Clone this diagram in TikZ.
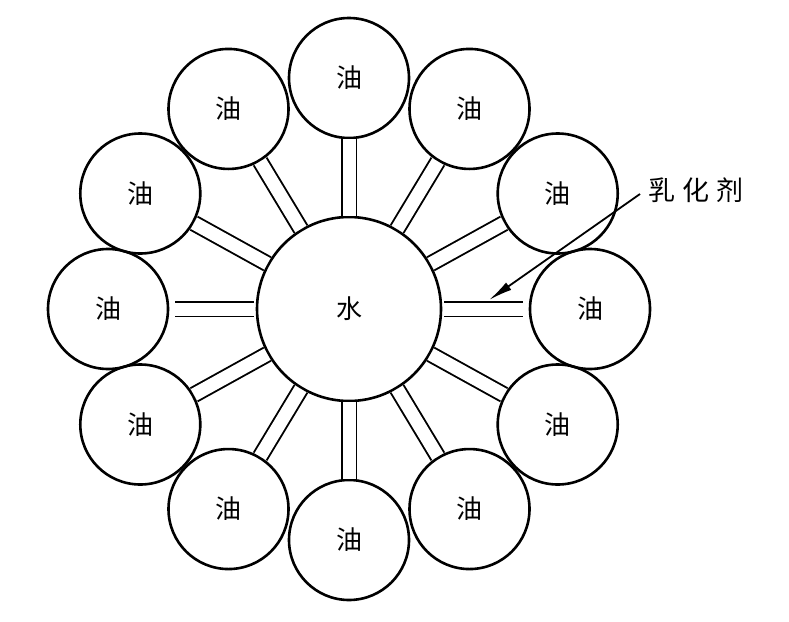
\documentclass[tikz,border=0pt]{standalone}
\usepackage{fontspec}
\newfontfamily\cjk{Noto Sans CJK SC}
\usetikzlibrary{arrows.meta}
\begin{document}
\begin{tikzpicture}[x=1pt,y=-1pt,
  oil/.style={circle,draw,line width=2.6pt,minimum size=120pt,inner sep=0pt,font=\cjk\fontsize{26}{26}\selectfont},
  water/.style={circle,draw,line width=2.6pt,minimum size=184pt,inner sep=0pt,font=\cjk\fontsize{26}{26}\selectfont},
  stem/.style={draw,line width=1.9pt,double=white,double distance=13pt},
  lbl/.style={font=\cjk\fontsize{27}{27}\selectfont,inner sep=0pt},
  leader/.style={line width=1.8pt,-{Latex[length=24pt,width=9pt]}}]
\useasboundingbox (0,0) rectangle (789,621);
\fill[white] (0,0) rectangle (789,621);
\node[water] (w) at (349,309) {水};
\foreach \k in {0,...,11}{
  \pgfmathsetmacro{\ang}{90-30*\k}
  \pgfmathsetmacro{\px}{349+241*cos(\ang)}
  \pgfmathsetmacro{\py}{309-231*sin(\ang)}
  \node[oil] (o\k) at (\px,\py) {油};
}
\foreach \k in {0,1,2,4,5,6,7,8,10,11}{
  \draw[stem] (w) -- (o\k);
}
\draw[stem,shorten <=2pt,shorten >=6pt] (w) -- (o3);
\draw[stem,shorten <=2pt,shorten >=6pt] (w) -- (o9);
\node[lbl,anchor=south west] (lab) at (648,203) {乳\hspace{7pt}化\hspace{7pt}剂};
\coordinate (tip) at (489,300);
\draw[leader] ([xshift=-8pt,yshift=9pt]lab.south west) -- (tip);
\end{tikzpicture}
\end{document}
